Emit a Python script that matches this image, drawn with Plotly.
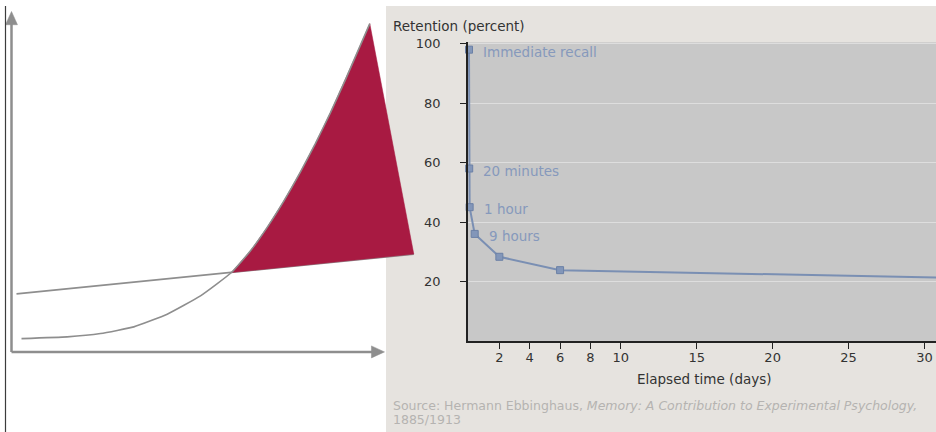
import plotly.graph_objects as go

# ---------------- Right chart: Ebbinghaus forgetting curve ----------------
elapsed_days = [0.0, 20 / 1440, 1 / 24, 9 / 24, 2.0, 6.0, 31.0]
retention_pct = [98.0, 58.0, 45.0, 36.0, 28.3, 23.8, 21.3]
point_labels = ["Immediate recall", "20 minutes", "1 hour", "9 hours", "", "", ""]
x_tick_vals = [2, 4, 6, 8, 10, 15, 20, 25, 30]
y_tick_vals = [20, 40, 60, 80, 100]

# ---------------- Left diagram (conceptual units, 0-100 axes) ----------------
curve_x = [2.68, 14.93, 23.86, 32.79, 41.74, 50.67, 58.98, 64.08, 68.55, 73.0,
           77.48, 81.50, 85.52, 89.54, 93.03, 96.06]
curve_y = [3.92, 4.42, 5.40, 7.37, 11.12, 16.52, 23.4, 29.79, 36.70, 44.43,
           53.04, 61.45, 70.50, 80.24, 89.06, 96.73]
line_x = [1.34, 107.86]
line_y = [17.11, 28.82]
cross_index = 6  # where curve meets the straight line

axis_v_x = [0, 0]
axis_v_y = [0, 97]
axis_h_x = [0, 97]
axis_h_y = [0, 0]
head_v_x = [-1.6, 1.6, 0, -1.6]
head_v_y = [96.4, 96.4, 100.3, 96.4]
head_h_x = [96.5, 96.5, 100.0, 96.5]
head_h_y = [-1.77, 1.77, 0, -1.77]

W, H = 936, 432
FONT = "DejaVu Sans"
GREY = "#8e8e8e"


def pyf(target_px):
    """paper y fraction for a target pixel row (compensates observed render offset)."""
    intended = (target_px - 5.5) / 0.985
    return min(1.0, max(0.0, 1 - intended / H))


fig = go.Figure()

# --- left diagram traces (x2/y2) ---
fig.add_trace(go.Scatter(x=line_x, y=line_y, mode="lines", xaxis="x2", yaxis="y2",
                         line=dict(color=GREY, width=1.6), hoverinfo="skip", showlegend=False))
red_x = curve_x[cross_index:] + [line_x[1], curve_x[cross_index]]
red_y = curve_y[cross_index:] + [line_y[1], curve_y[cross_index]]
fig.add_trace(go.Scatter(x=red_x, y=red_y, mode="lines", fill="toself", xaxis="x2", yaxis="y2",
                         fillcolor="#a81a42", line=dict(color="#a81a42", width=0.5),
                         hoverinfo="skip", showlegend=False))
fig.add_trace(go.Scatter(x=curve_x, y=curve_y, mode="lines", xaxis="x2", yaxis="y2",
                         line=dict(color=GREY, width=1.6, shape="spline", smoothing=0.4),
                         hoverinfo="skip", showlegend=False))
for ax_x, ax_y in ((axis_v_x, axis_v_y), (axis_h_x, axis_h_y)):
    fig.add_trace(go.Scatter(x=ax_x, y=ax_y, mode="lines", xaxis="x2", yaxis="y2",
                             line=dict(color=GREY, width=2.5), hoverinfo="skip", showlegend=False))
for hx, hy in ((head_v_x, head_v_y), (head_h_x, head_h_y)):
    fig.add_trace(go.Scatter(x=hx, y=hy, mode="lines", fill="toself", xaxis="x2", yaxis="y2",
                             fillcolor=GREY, line=dict(color=GREY, width=0.5),
                             hoverinfo="skip", showlegend=False))

# --- right chart trace ---
fig.add_trace(go.Scatter(
    x=elapsed_days, y=retention_pct, mode="lines+markers",
    line=dict(color="#7a8fb3", width=2),
    marker=dict(symbol="square", size=7, color="#8296b9", line=dict(color="#6b80a6", width=1)),
    cliponaxis=False, hoverinfo="skip", showlegend=False))

annotations = []
for d, r, lab in zip(elapsed_days, retention_pct, point_labels):
    if lab:
        annotations.append(dict(x=d, y=r, xref="x", yref="y", text=lab, showarrow=False,
                                xanchor="left", yanchor="middle", xshift=12, yshift=-2,
                                font=dict(family=FONT, size=13.5, color="#8699bc")))
annotations += [
    dict(x=391 / W, y=pyf(25), xref="paper", yref="paper", text="Retention (percent)",
         showarrow=False, xanchor="left", yanchor="middle",
         font=dict(family=FONT, size=13.5, color="#333333")),
    dict(x=704 / W, y=pyf(378), xref="paper", yref="paper", text="Elapsed time (days)",
         showarrow=False, xanchor="center", yanchor="middle",
         font=dict(family=FONT, size=13.5, color="#333333")),
    dict(x=391 / W, y=pyf(405), xref="paper", yref="paper", align="left",
         text="Source: Hermann Ebbinghaus, <i>Memory: A Contribution to Experimental Psychology,</i>",
         showarrow=False, xanchor="left", yanchor="middle",
         font=dict(family=FONT, size=12.5, color="#b5b3b1")),
    dict(x=391 / W, y=pyf(418.5), xref="paper", yref="paper", align="left",
         text="1885/1913",
         showarrow=False, xanchor="left", yanchor="middle",
         font=dict(family=FONT, size=12.5, color="#b5b3b1")),
]

shapes = [
    # beige panel behind the embedded chart
    dict(type="rect", xref="paper", yref="paper", x0=386 / W, x1=1, y0=0, y1=pyf(3.3),
         fillcolor="#e6e3df", line=dict(width=0), layer="below"),
    # grey plotting area
    dict(type="rect", xref="x domain", yref="y domain", x0=0, x1=1, y0=0, y1=1,
         fillcolor="#c8c8c8", line=dict(width=0), layer="below"),
    # slide border line at left
    dict(type="line", xref="paper", yref="paper", x0=5.5 / W, x1=5.5 / W, y0=0, y1=1,
         line=dict(color="#3c3c3c", width=1.2)),
]

fig.update_layout(
    width=W, height=H, margin=dict(l=0, r=0, t=0, b=0),
    paper_bgcolor="white", plot_bgcolor="rgba(0,0,0,0)",
    font=dict(family=FONT),
    xaxis=dict(domain=[468 / W, 1], range=[-0.066, 30.76], tickvals=x_tick_vals,
               showgrid=False, zeroline=False, showline=True, linecolor="#222222", linewidth=1.5,
               ticks="outside", ticklen=6, tickcolor="#222222", tickwidth=1.3,
               ticklabelstandoff=-2, tickfont=dict(family=FONT, size=13, color="#333333")),
    yaxis=dict(domain=[pyf(340), pyf(41.7)], range=[0, 100.5], tickvals=y_tick_vals,
               showgrid=True, gridcolor="#dedede", gridwidth=1, zeroline=False,
               showline=True, linecolor="#222222", linewidth=1.5,
               ticks="outside", ticklen=6, tickcolor="#222222", tickwidth=1.3,
               ticklabelstandoff=17, tickfont=dict(family=FONT, size=13, color="#333333")),
    xaxis2=dict(domain=[0, 420 / W], range=[-3.083, 109.52], visible=False, anchor="y2"),
    yaxis2=dict(domain=[0, 1], range=[(351 - 431) / 3.39, (351 - 5.5) / 3.39],
                visible=False, anchor="x2"),
    annotations=annotations, shapes=shapes,
)

fig.write_html("out.html", config={"displayModeBar": False},
               post_script="document.body.style.margin='0';document.body.style.overflow='hidden';")
